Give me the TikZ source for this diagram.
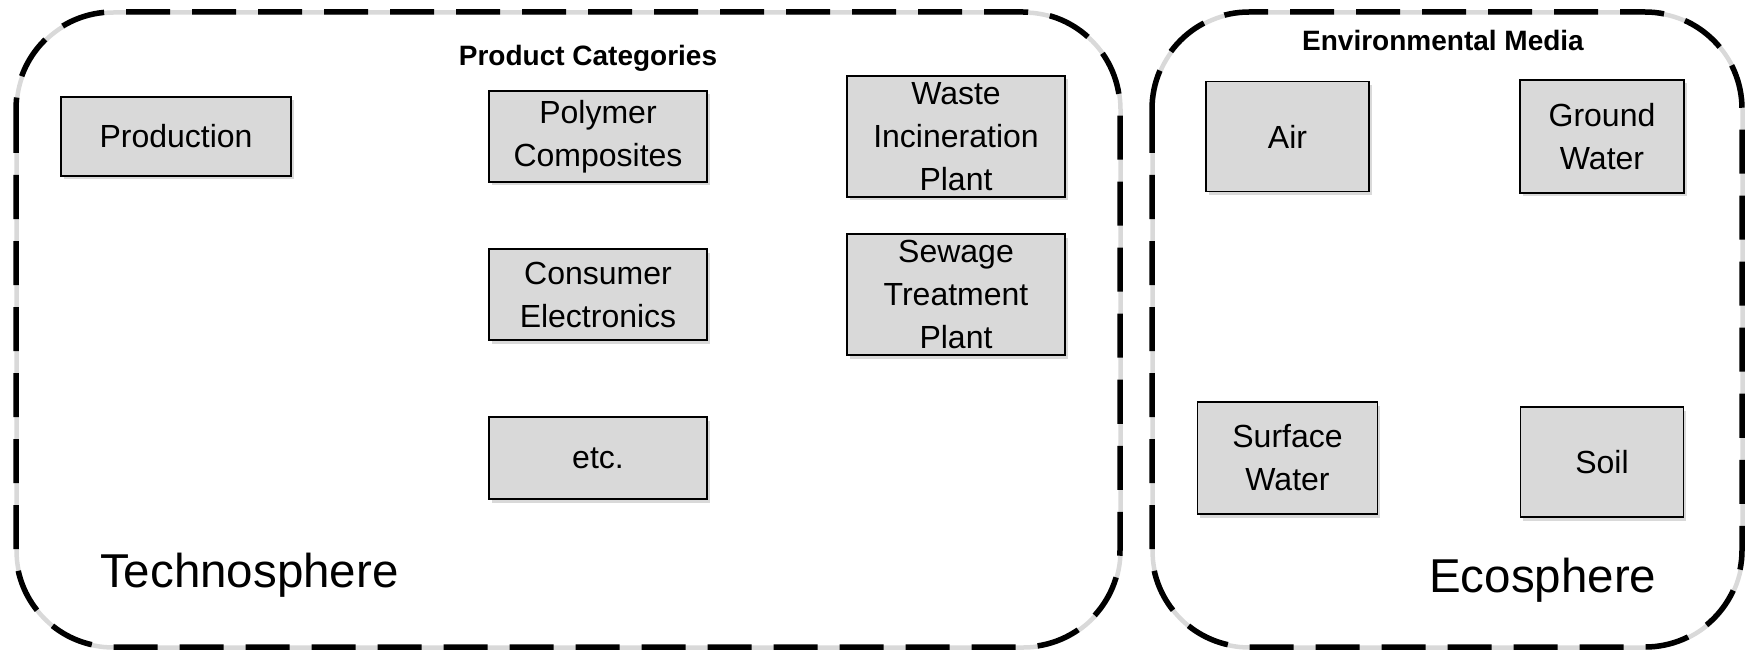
\documentclass[tikz,border=0pt]{standalone}
\usepackage{fontspec}
\setmainfont{Liberation Sans}
\usetikzlibrary{shadows}
\definecolor{boxgray}{HTML}{D9D9D9}
\tikzstyle{box} = [rectangle, minimum width=218pt, minimum height=91pt, inner sep=2pt, align=center, draw=black, line width=1.6pt, fill=boxgray, font=\fontsize{32}{43}\selectfont, drop shadow={shadow xshift=2.5pt, shadow yshift=-3.5pt, opacity=0.3}]
\tikzstyle{frame} = [line width=5.5pt, dash pattern=on 44pt off 22pt, rounded corners=97pt]
\tikzstyle{frameshadow} = [line width=4.5pt, gray!30, rounded corners=97pt]
\tikzstyle{heading} = [anchor=base, font=\bfseries\fontsize{28}{33}\selectfont]
\tikzstyle{sphere} = [anchor=base west, inner sep=0pt, font=\fontsize{47.5}{56}\selectfont]

\begin{document}
\begin{tikzpicture}[x=1pt, y=-1pt, node distance=158pt]
\useasboundingbox (0,0) rectangle (1750,655);
\draw [frameshadow] (16.5,12.5) rectangle (1120.5,647.5);
\draw [frameshadow] (1152.5,12.5) rectangle (1742.5,647.5);
\draw [frame] (16,12) rectangle (1120,647);
\draw [frame] (1152,12) rectangle (1742,647);
\node (prodcat) [heading] at (588,66) {Product Categories};
\node (envmedia) [heading] at (1443,51) {Environmental Media};
\node (technolabel) [sphere] at (100,587) {Technosphere};
\node (ecolabel) [sphere] at (1429,592) {Ecosphere};
\node (prod) [box, minimum width=230pt, minimum height=79pt] at (176,136.5) {Production};
\node (poly) [box, right of=prod, xshift=264pt] {Polymer\\Composites};
\node (cons) [box, below of=poly] {Consumer\\Electronics};
\node (etc) [box, below of=cons, yshift=-5.5pt, minimum height=82pt] {etc.};
\node (waste) [box, right of=poly, xshift=200pt, minimum height=121pt] {Waste\\Incineration\\Plant};
\node (sewage) [box, below of=waste, minimum height=121pt] {Sewage\\Treatment\\Plant};
\node (air) [box, right of=waste, xshift=173.5pt, minimum width=163pt, minimum height=110pt] {Air};
\node (ground) [box, right of=air, xshift=156.5pt, minimum width=164pt, minimum height=113pt] {Ground\\Water};
\node (surface) [box, below of=air, yshift=-163.5pt, minimum width=180pt, minimum height=112pt] {Surface\\Water};
\node (soil) [box, below of=ground, yshift=-167.5pt, minimum width=163pt, minimum height=110pt] {Soil};
\end{tikzpicture}
\end{document}
